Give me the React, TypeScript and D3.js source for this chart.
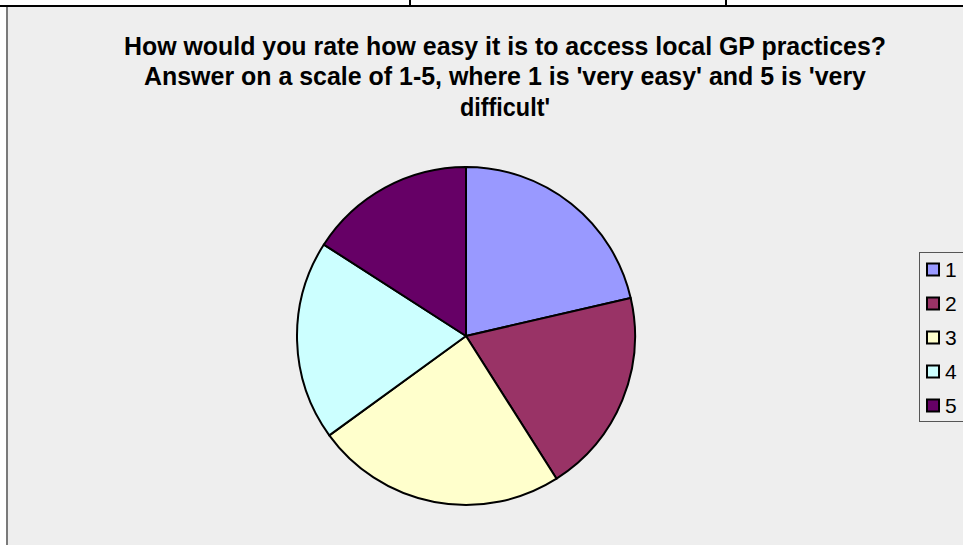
import React from "react";
import * as d3 from "d3";

const categories = ["1", "2", "3", "4", "5"];
const values = [21.4, 19.6, 24.0, 19.1, 15.9];
const colors = ["#9999FF", "#993366", "#FFFFCC", "#CCFFFF", "#660066"];
const titleLines = [
  "How would you rate how easy it is to access local GP practices?",
  "Answer on a scale of 1-5, where 1 is 'very easy' and 5 is 'very",
  "difficult'",
];

export default function App() {
  const W = 963, H = 545;
  const cx = 466, cy = 336, r = 169;
  const pie = d3.pie<number>().sort(null).value((d) => d);
  const arcs = pie(values);
  const arc = d3.arc<d3.PieArcDatum<number>>().innerRadius(0).outerRadius(r);
  const legendY = d3.scalePoint<string>().domain(categories).range([269.5, 405.5]);
  const titleWidths = [762, 722, 90];
  const titleY = [55, 85, 116];
  const font = "'Liberation Sans', Arial, sans-serif";
  return (
    <svg width={W} height={H} style={{ position: "absolute", left: 0, top: 0 }}>
      <rect x={0} y={0} width={W} height={H} fill="#ffffff" />
      <rect x={7} y={7} width={W - 7} height={H - 7} fill="#eeeeee" />
      <line x1={7} y1={7} x2={7} y2={H} stroke="#7a7a7a" strokeWidth={2} />
      <line x1={0} y1={6} x2={W} y2={6} stroke="#000" strokeWidth={2} />
      <line x1={410} y1={0} x2={410} y2={6} stroke="#000" strokeWidth={2} />
      <line x1={726} y1={0} x2={726} y2={6} stroke="#000" strokeWidth={2} />
      {titleLines.map((t, i) => (
        <text
          key={i}
          x={505}
          y={titleY[i]}
          textAnchor="middle"
          fontFamily={font}
          fontWeight="bold"
          fontSize={25}
          fill="#000"
          textLength={titleWidths[i]}
          lengthAdjust="spacingAndGlyphs"
        >
          {t}
        </text>
      ))}
      <g transform={`translate(${cx},${cy})`}>
        {arcs.map((a, i) => (
          <path key={i} d={arc(a) || ""} fill={colors[i]} stroke="#000" strokeWidth={2} strokeLinejoin="round" />
        ))}
      </g>
      <rect x={919.5} y={252.5} width={60} height={169} fill="none" stroke="#555" strokeWidth={1} />
      {categories.map((c, i) => (
        <g key={c}>
          <rect x={927} y={(legendY(c) as number) - 6} width={12} height={12} fill={colors[i]} stroke="#000" strokeWidth={2} />
          <text x={945} y={legendY(c) as number} dy="0.36em" fontFamily={font} fontSize={21} fill="#000">
            {c}
          </text>
        </g>
      ))}
    </svg>
  );
}
